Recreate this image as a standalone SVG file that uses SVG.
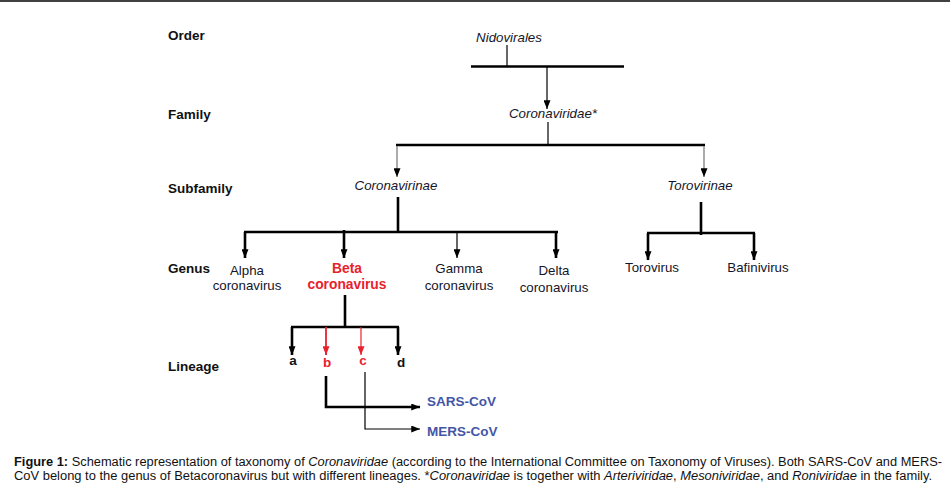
<svg xmlns="http://www.w3.org/2000/svg" width="950" height="498" viewBox="0 0 950 498">
<style>
.lbl{font-family:"Liberation Sans",Arial,sans-serif;font-size:13.5px;font-weight:bold;fill:#111}
.tx{font-family:"Liberation Sans",Arial,sans-serif;font-size:13.3px;fill:#15152a;text-anchor:middle}
.it{font-style:italic}
.red{fill:#e8222c;font-weight:bold;font-size:13.8px}
.lin{font-family:"Liberation Sans",Arial,sans-serif;font-size:13.5px;font-weight:bold;text-anchor:middle;fill:#111}
.cov{font-family:"Liberation Sans",Arial,sans-serif;font-size:13.5px;font-weight:bold;fill:#4356a6}
.cap{font-family:"Liberation Sans",Arial,sans-serif;font-size:12.5px;fill:#111}
.thick{stroke:#000;stroke-width:2.6;fill:none}
.thin{stroke:#000;stroke-width:1.2;fill:none}
.gray{stroke:#888;stroke-width:1.4;fill:none}
</style>
<defs>
<marker id="ah" viewBox="0 0 10 8" refX="10" refY="4" markerWidth="10" markerHeight="7" markerUnits="userSpaceOnUse" orient="auto"><path d="M0,0 L10,4 L0,8 z" fill="#000"/></marker>
<marker id="ahr" viewBox="0 0 10 8" refX="10" refY="4" markerWidth="10" markerHeight="7" markerUnits="userSpaceOnUse" orient="auto"><path d="M0,0 L10,4 L0,8 z" fill="#e8222c"/></marker>
</defs>
<rect width="950" height="498" fill="#fff"/>
<line x1="0" y1="1" x2="950" y2="1" stroke="#000" stroke-width="1.5"/>

<g id="rank-labels">
<text class="lbl" x="168" y="40">Order</text>
<text class="lbl" x="168" y="119">Family</text>
<text class="lbl" x="168" y="193">Subfamily</text>
<text class="lbl" x="168" y="273">Genus</text>
<text class="lbl" x="168" y="371">Lineage</text>
</g>

<g id="connectors">
<line class="thin" x1="507" y1="45" x2="507" y2="66"/>
<line class="thick" x1="471" y1="66.5" x2="624" y2="66.5"/>
<line class="thin" x1="547" y1="67" x2="547" y2="109" marker-end="url(#ah)"/>
<line class="thin" x1="548" y1="122" x2="548" y2="145"/>
<line class="thick" x1="396" y1="145" x2="705" y2="145"/>
<line class="gray" x1="397" y1="146" x2="397" y2="177" marker-end="url(#ah)"/>
<line class="gray" x1="704" y1="146" x2="704" y2="177" marker-end="url(#ah)"/>
<line class="thick" x1="398" y1="197" x2="398" y2="232"/>
<line class="thick" x1="244" y1="232" x2="558" y2="232"/>
<line class="thick" x1="245" y1="232" x2="245" y2="258" marker-end="url(#ah)"/>
<line class="thick" x1="344" y1="230" x2="344" y2="258" marker-end="url(#ah)"/>
<line class="thin" x1="457" y1="232" x2="457" y2="258" marker-end="url(#ah)"/>
<line class="thick" x1="556" y1="232" x2="556" y2="258" marker-end="url(#ah)"/>
<line class="thick" x1="701" y1="202" x2="701" y2="235"/>
<line class="thick" x1="647" y1="233" x2="755" y2="233"/>
<line class="thick" x1="648" y1="233" x2="648" y2="260" marker-end="url(#ah)"/>
<line class="thick" x1="754" y1="233" x2="754" y2="260" marker-end="url(#ah)"/>
<line class="thick" x1="345" y1="295" x2="345" y2="327"/>
<line class="thick" x1="291" y1="327" x2="399" y2="327"/>
<line class="thick" x1="292" y1="327" x2="292" y2="355" marker-end="url(#ah)"/>
<line x1="326" y1="327" x2="326" y2="355" stroke="#e8222c" stroke-width="1.8" marker-end="url(#ahr)"/>
<line x1="361" y1="327" x2="361" y2="355" stroke="#e8222c" stroke-width="1.2" marker-end="url(#ahr)"/>
<line class="thick" x1="398" y1="327" x2="398" y2="355" marker-end="url(#ah)"/>
<path class="thick" d="M326,376 V407 H420" marker-end="url(#ah)"/>
<path class="thin" d="M365,372 V429 H420" marker-end="url(#ah)"/>
</g>

<g id="n-nidovirales"><text class="tx it" x="509" y="42">Nidovirales</text></g>
<g id="n-coronaviridae"><text class="tx it" x="553" y="118">Coronaviridae*</text></g>
<g id="n-coronavirinae"><text class="tx it" x="396" y="190">Coronavirinae</text></g>
<g id="n-torovirinae"><text class="tx it" x="700" y="190">Torovirinae</text></g>
<g id="n-alpha"><text class="tx" x="247" y="275">Alpha</text><text class="tx" x="247" y="290">coronavirus</text></g>
<g id="n-beta"><text class="tx red" x="347" y="273">Beta</text><text class="tx red" x="347" y="289">coronavirus</text></g>
<g id="n-gamma"><text class="tx" x="459" y="273">Gamma</text><text class="tx" x="459" y="290">coronavirus</text></g>
<g id="n-delta"><text class="tx" x="554" y="275">Delta</text><text class="tx" x="554" y="292">coronavirus</text></g>
<g id="n-torovirus"><text class="tx" x="652" y="272">Torovirus</text></g>
<g id="n-bafinivirus"><text class="tx" x="758" y="272">Bafinivirus</text></g>
<g id="n-a"><text class="lin" x="293" y="365">a</text></g>
<g id="n-b"><text class="lin" x="327" y="367" style="fill:#e8222c">b</text></g>
<g id="n-c"><text class="lin" x="363" y="365" style="fill:#e8222c">c</text></g>
<g id="n-d"><text class="lin" x="401" y="367">d</text></g>
<g id="n-sars"><text class="cov" x="427" y="406">SARS-CoV</text></g>
<g id="n-mers"><text class="cov" x="427" y="436">MERS-CoV</text></g>

<g id="caption">
<text class="cap" x="14" y="466" textLength="928" lengthAdjust="spacingAndGlyphs"><tspan font-weight="bold">Figure 1:</tspan> Schematic representation of taxonomy of <tspan font-style="italic">Coronaviridae</tspan> (according to the International Committee on Taxonomy of Viruses). Both SARS-CoV and MERS-</text>
<text class="cap" x="14" y="480" textLength="918" lengthAdjust="spacingAndGlyphs">CoV belong to the genus of Betacoronavirus but with different lineages. *<tspan font-style="italic">Coronaviridae</tspan> is together with <tspan font-style="italic">Arteriviridae</tspan>, <tspan font-style="italic">Mesoniviridae</tspan>, and <tspan font-style="italic">Roniviridae</tspan> in the family.</text>
</g>
</svg>
